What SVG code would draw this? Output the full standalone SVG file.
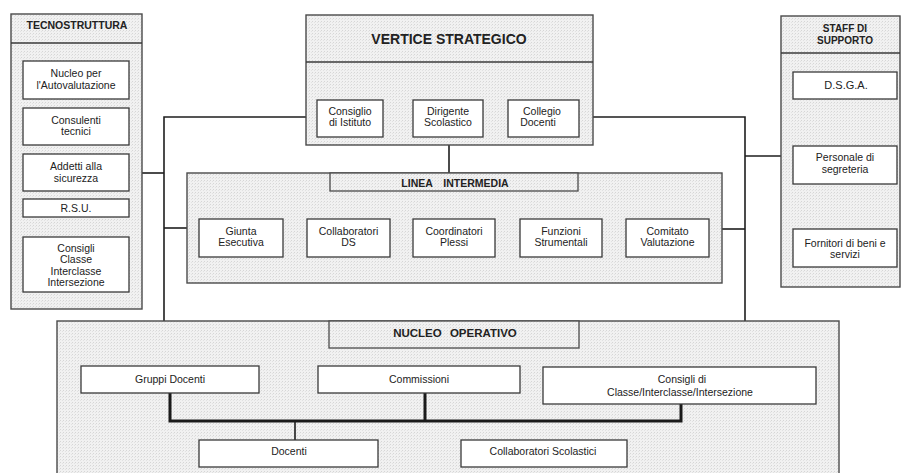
<svg xmlns="http://www.w3.org/2000/svg" width="901" height="473" viewBox="0 0 901 473">
  <defs>
    <pattern id="grain" width="3" height="3" patternUnits="userSpaceOnUse">
      <rect width="3" height="3" fill="#f1f1f1"/>
      <rect x="0" y="0" width="1" height="1" fill="#d6d6d6"/>
      <rect x="2" y="1" width="1" height="1" fill="#e2e2e2"/>
    </pattern>
  </defs>
  <style>
    .area { fill: url(#grain); stroke: #4a4a4a; stroke-width: 1.4; }
    .tab { fill: url(#grain); stroke: #4a4a4a; stroke-width: 1.3; }
    .box { fill: #ffffff; stroke: #3a3a3a; stroke-width: 1.3; }
    .sep { stroke: #3a3a3a; stroke-width: 1.3; fill: none; }
    .wire { stroke: #1e1e1e; stroke-width: 1.6; fill: none; }
    .thick { stroke: #1a1a1a; stroke-width: 3; fill: none; }
    text { font-family: "Liberation Sans", Arial, sans-serif; fill: #222; text-anchor: middle; }
    .t { font-size: 10.5px; }
    .h { font-size: 10.5px; font-weight: bold; }
    .hs { font-size: 10px; font-weight: bold; }
    .hb { font-size: 14px; font-weight: bold; }
    .hn { font-size: 11.5px; font-weight: bold; word-spacing: 5px; }
    .hl { font-size: 10.5px; font-weight: bold; word-spacing: 8px; }
  </style>

  <!-- connectors -->
  <g id="connectors">
    <polyline class="wire" points="306,117 164,117 164,321"/>
    <line class="wire" x1="142" y1="173" x2="164" y2="173"/>
    <line class="wire" x1="164" y1="228" x2="187" y2="228"/>
    <polyline class="wire" points="593,117 745,117 745,321"/>
    <line class="wire" x1="745" y1="156" x2="781" y2="156"/>
    <line class="wire" x1="722" y1="229" x2="745" y2="229"/>
    <line class="wire" x1="449" y1="145" x2="449" y2="173"/>
    <line class="wire" x1="383" y1="117" x2="413" y2="117"/>
    <line class="wire" x1="483" y1="117" x2="508" y2="117"/>
    <line class="wire" x1="283" y1="237" x2="307" y2="237"/>
    <line class="wire" x1="390" y1="237" x2="413" y2="237"/>
    <line class="wire" x1="495" y1="237" x2="520" y2="237"/>
    <line class="wire" x1="602" y1="237" x2="626" y2="237"/>
  </g>

  <!-- TECNOSTRUTTURA -->
  <g id="tecnostruttura">
    <rect class="area" x="11" y="14" width="131" height="295"/>
    <line class="sep" x1="11" y1="43" x2="142" y2="43"/>
    <text class="h" x="77" y="29">TECNOSTRUTTURA</text>
  </g>
  <g id="nucleo-autovalutazione">
    <rect class="box" x="23" y="61" width="106" height="38"/>
    <text class="t" x="76" y="77">Nucleo per</text>
    <text class="t" x="76" y="89">l'Autovalutazione</text>
  </g>
  <g id="consulenti">
    <rect class="box" x="23" y="108" width="106" height="37"/>
    <text class="t" x="76" y="123.5">Consulenti</text>
    <text class="t" x="76" y="135">tecnici</text>
  </g>
  <g id="addetti">
    <rect class="box" x="23" y="154" width="106" height="37"/>
    <text class="t" x="76" y="170">Addetti alla</text>
    <text class="t" x="76" y="181.5">sicurezza</text>
  </g>
  <g id="rsu">
    <rect class="box" x="23" y="199" width="106" height="18"/>
    <text class="t" x="76" y="212">R.S.U.</text>
  </g>
  <g id="consigli-tecno">
    <rect class="box" x="23" y="237" width="106" height="55"/>
    <text class="t" x="76" y="251.5">Consigli</text>
    <text class="t" x="76" y="263">Classe</text>
    <text class="t" x="76" y="274.5">Interclasse</text>
    <text class="t" x="76" y="286">Intersezione</text>
  </g>

  <!-- VERTICE STRATEGICO -->
  <g id="vertice">
    <rect class="area" x="306" y="15" width="287" height="130"/>
    <line class="sep" x1="306" y1="62" x2="593" y2="62"/>
    <text class="hb" x="449" y="44">VERTICE STRATEGICO</text>
  </g>
  <g id="consiglio-istituto">
    <rect class="box" x="317" y="100" width="66" height="37"/>
    <text class="t" x="350" y="114.5">Consiglio</text>
    <text class="t" x="350" y="126">di Istituto</text>
  </g>
  <g id="dirigente">
    <rect class="box" x="413" y="100" width="70" height="37"/>
    <text class="t" x="448" y="114.5">Dirigente</text>
    <text class="t" x="448" y="126">Scolastico</text>
  </g>
  <g id="collegio">
    <rect class="box" x="508" y="100" width="71" height="37"/>
    <text class="t" x="542" y="114.5">Collegio</text>
    <text class="t" x="538" y="126">Docenti</text>
  </g>

  <!-- STAFF DI SUPPORTO -->
  <g id="staff">
    <rect class="area" x="781" y="16" width="119" height="271"/>
    <line class="sep" x1="781" y1="53" x2="900" y2="53"/>
    <text class="hs" x="845" y="32">STAFF DI</text>
    <text class="hs" x="845" y="44">SUPPORTO</text>
  </g>
  <g id="dsga">
    <rect class="box" x="793" y="72" width="104" height="27"/>
    <text class="t" x="846" y="89" style="font-size:11px">D.S.G.A.</text>
  </g>
  <g id="segreteria">
    <rect class="box" x="793" y="146" width="104" height="38"/>
    <text class="t" x="845" y="161">Personale di</text>
    <text class="t" x="845" y="172.5">segreteria</text>
  </g>
  <g id="fornitori">
    <rect class="box" x="793" y="229" width="104" height="38"/>
    <text class="t" x="845" y="246.5">Fornitori di beni e</text>
    <text class="t" x="845" y="258">servizi</text>
  </g>

  <!-- LINEA INTERMEDIA -->
  <g id="linea">
    <rect class="area" x="187" y="173" width="535" height="110"/>
    <rect class="tab" x="330" y="173" width="248" height="18"/>
    <text class="hl" x="455" y="187">LINEA INTERMEDIA</text>
  </g>
  <g id="giunta">
    <rect class="box" x="199" y="219" width="84" height="38"/>
    <text class="t" x="241" y="234.5">Giunta</text>
    <text class="t" x="241" y="246">Esecutiva</text>
  </g>
  <g id="collaboratori-ds">
    <rect class="box" x="307" y="219" width="83" height="38"/>
    <text class="t" x="348.5" y="234.5">Collaboratori</text>
    <text class="t" x="348.5" y="246">DS</text>
  </g>
  <g id="coordinatori">
    <rect class="box" x="413" y="219" width="82" height="38"/>
    <text class="t" x="454" y="234.5">Coordinatori</text>
    <text class="t" x="454" y="246">Plessi</text>
  </g>
  <g id="funzioni">
    <rect class="box" x="520" y="219" width="82" height="38"/>
    <text class="t" x="561" y="234.5">Funzioni</text>
    <text class="t" x="561" y="246">Strumentali</text>
  </g>
  <g id="comitato">
    <rect class="box" x="626" y="219" width="83" height="38"/>
    <text class="t" x="667.5" y="234.5">Comitato</text>
    <text class="t" x="667.5" y="246">Valutazione</text>
  </g>

  <!-- NUCLEO OPERATIVO -->
  <g id="nucleo">
    <rect class="area" x="57" y="321" width="782" height="170"/>
    <rect class="tab" x="329" y="321" width="250" height="27"/>
    <text class="hn" x="455" y="337">NUCLEO OPERATIVO</text>
  </g>
  <g id="nucleo-links">
    <polyline class="thick" points="170,393 170,421 681,421 681,404"/>
    <line class="thick" x1="425" y1="393" x2="425" y2="421"/>
    <line class="wire" x1="295" y1="421" x2="295" y2="440"/>
  </g>
  <g id="gruppi-docenti">
    <rect class="box" x="81" y="366" width="178" height="27"/>
    <text class="t" x="170" y="383">Gruppi Docenti</text>
  </g>
  <g id="commissioni">
    <rect class="box" x="318" y="366" width="202" height="27"/>
    <text class="t" x="419" y="383">Commissioni</text>
  </g>
  <g id="consigli-classe">
    <rect class="box" x="543" y="367" width="273" height="37"/>
    <text class="t" x="682" y="383">Consigli di</text>
    <text class="t" x="680" y="395.5">Classe/Interclasse/Intersezione</text>
  </g>
  <g id="docenti">
    <rect class="box" x="199" y="440" width="179" height="27"/>
    <text class="t" x="289" y="454.5">Docenti</text>
  </g>
  <g id="collaboratori-scolastici">
    <rect class="box" x="461" y="440" width="166" height="27"/>
    <text class="t" x="543" y="454.5">Collaboratori Scolastici</text>
  </g>
</svg>
